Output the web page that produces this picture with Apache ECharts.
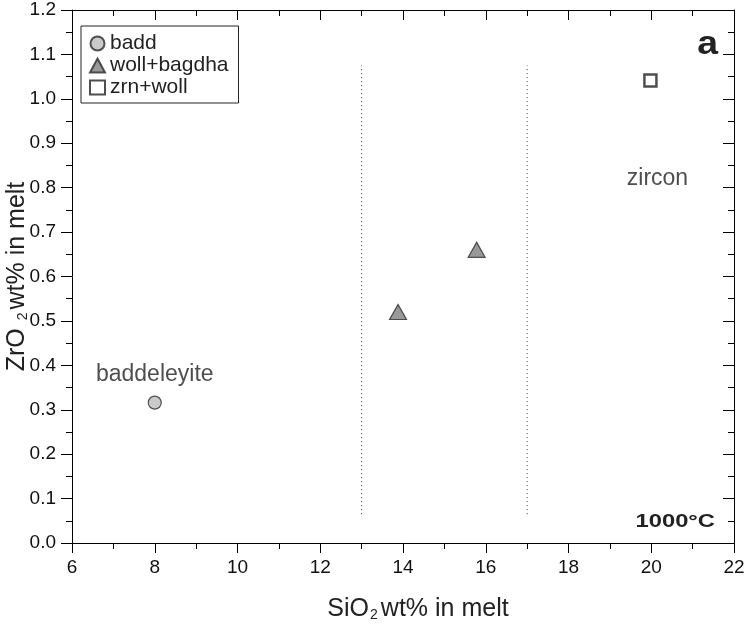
<!DOCTYPE html>
<html>
	<head>
		<meta charset="utf-8">
		<title>ZrO2 vs SiO2</title>
		<style type="text/css">
			html,body{margin:0;padding:0;background:#fff;}
			#main{width:747px;height:625px;}
		</style>
	</head>
	<body>
		<div id="main"></div>
		<script src="https://cdn.jsdelivr.net/npm/echarts@6/dist/echarts.min.js"></script>
		<script type="text/javascript">
		// data: [SiO2, ZrO2]
		var badd = [[8.0, 0.316]];
		var wollBagdha = [[13.88, 0.52], [15.78, 0.66]];
		var zrnWoll = [[19.98, 1.041]];
		// dotted field boundaries
		var boundaryX = [13, 17];
		var boundaryY = [0.065, 1.075];
		// field names [x, y, text]
		var fieldLabels = [[8.0, 0.378, 'baddeleyite'], [20.15, 0.82, 'zircon']];

		var font = 'Liberation Sans, Arial, sans-serif';
		var chart = echarts.init(document.getElementById('main'));

		var series = [
			{
				name: 'badd', type: 'scatter', data: badd, symbol: 'circle', symbolSize: 13,
				itemStyle: {color: '#bdbdc1', borderColor: '#2a2a2a', borderWidth: 1.2}, z: 5
			},
			{
				name: 'woll+bagdha', type: 'scatter', data: wollBagdha, symbol: 'triangle', symbolSize: [17, 15],
				itemStyle: {color: '#7f7f7f', borderColor: '#2a2a2a', borderWidth: 1.2}, z: 5
			},
			{
				name: 'zrn+woll', type: 'scatter', data: zrnWoll, symbol: 'rect', symbolSize: 12,
				itemStyle: {color: '#fff', borderColor: '#222', borderWidth: 2.5}, z: 5
			}
		];
		boundaryX.forEach(function(x){
			series.push({
				type: 'line', data: [[x, boundaryY[0]], [x, boundaryY[1]]], symbol: 'none', silent: true,
				lineStyle: {color: '#333', width: 1, type: [1, 3]}
			});
		});
		series.push({
			type: 'scatter', symbolSize: 0, silent: true,
			data: fieldLabels.map(function(d){ return {value: [d[0], d[1]], label: {formatter: d[2]}}; }),
			label: {show: true, position: 'inside', fontFamily: font, fontSize: 23, color: '#222'}
		});

		var tickStyle = {color: '#000', width: 1};
		var subStyle = {fontFamily: font, fontSize: 14, color: '#222', verticalAlign: 'bottom', lineHeight: 14, padding: [0, 3, 0, 1]};
		var option = {
			animation: false,
			grid: {left: 72, right: 13, top: 10, bottom: 82, containLabel: false, outerBoundsMode: 'none'},
			legend: {
				data: ['badd', 'woll+bagdha', 'zrn+woll'],
				orient: 'vertical', left: 81, top: 26,
				padding: [7, 10, 5, 8], itemGap: 1, itemWidth: 15, itemHeight: 14,
				borderColor: '#222', borderWidth: 1, borderRadius: 0, backgroundColor: '#fff',
				textStyle: {fontFamily: font, fontSize: 21, color: '#222'}
			},
			xAxis: [
				{
					type: 'value', min: 6, max: 22, interval: 2, position: 'bottom',
					name: 'SiO{sub|2}wt% in melt', nameLocation: 'middle', nameGap: 54, nameMoveOverlap: false,
					nameTextStyle: {fontFamily: font, fontSize: 25, color: '#222', padding: [0, 0, 0, 30], rich: {sub: subStyle}},
					axisLine: {onZero: false, lineStyle: tickStyle},
					axisTick: {length: 10, lineStyle: tickStyle},
					minorTick: {show: true, splitNumber: 2, length: 6, lineStyle: tickStyle},
					axisLabel: {fontFamily: font, fontSize: 19, color: '#111', margin: 15},
					splitLine: {show: false}
				},
				{
					type: 'value', min: 6, max: 22, interval: 2, position: 'top',
					axisLine: {onZero: false, lineStyle: tickStyle},
					axisTick: {inside: true, length: 10, lineStyle: tickStyle},
					minorTick: {show: true, splitNumber: 2, length: 6, lineStyle: tickStyle},
					axisLabel: {show: false}, splitLine: {show: false}
				}
			],
			yAxis: [
				{
					type: 'value', min: 0, max: 1.2, interval: 0.1, position: 'left',
					name: 'ZrO {sub|2}wt% in melt', nameLocation: 'middle', nameGap: 42, nameMoveOverlap: false,
					nameTextStyle: {fontFamily: font, fontSize: 25, color: '#222', rich: {sub: subStyle}},
					axisLine: {onZero: false, lineStyle: tickStyle},
					axisTick: {length: 11, lineStyle: tickStyle},
					minorTick: {show: true, splitNumber: 2, length: 6, lineStyle: tickStyle},
					axisLabel: {fontFamily: font, fontSize: 19, color: '#111', margin: 16,
						formatter: function(v){ return v.toFixed(1); }},
					splitLine: {show: false}
				},
				{
					type: 'value', min: 0, max: 1.2, interval: 0.1, position: 'right',
					axisLine: {onZero: false, lineStyle: tickStyle},
					axisTick: {inside: true, length: 11, lineStyle: tickStyle},
					minorTick: {show: true, splitNumber: 2, length: 6, lineStyle: tickStyle},
					axisLabel: {show: false}, splitLine: {show: false}
				}
			],
			graphic: [
				{type: 'text', x: 718, y: 45, scaleX: 1.1,
					style: {text: 'a', align: 'right', verticalAlign: 'middle', fontFamily: font, fontSize: 34, fontWeight: 'bold', fill: '#222'}},
				{type: 'text', x: 715, y: 522, scaleX: 1.25,
					style: {text: '1000°C', align: 'right', verticalAlign: 'middle', fontFamily: font, fontSize: 19, fontWeight: 'bold', fill: '#222'}}
			],
			series: series
		};
		chart.setOption(option);
		</script>
	</body>
</html>
